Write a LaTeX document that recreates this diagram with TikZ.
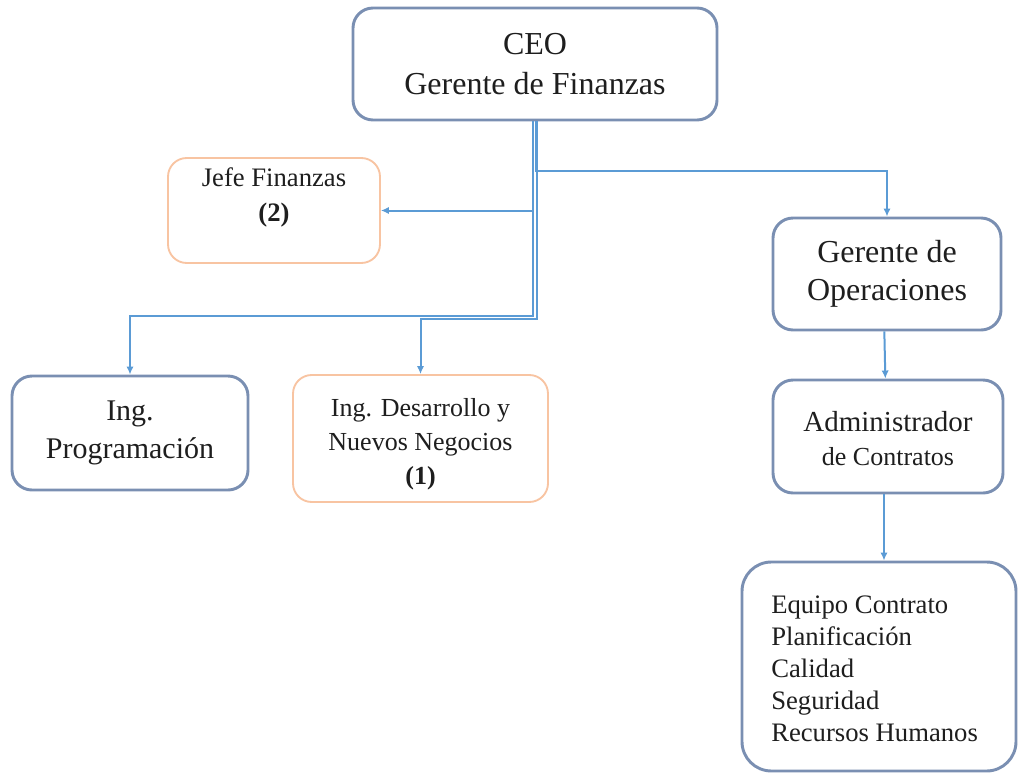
\documentclass[tikz,border=0pt]{standalone}
\usepackage{fontspec}
\setmainfont{LiberationSerif}[Extension=.ttf,UprightFont=*-Regular,BoldFont=*-Bold,ItalicFont=*-Italic,BoldItalicFont=*-BoldItalic]
\usetikzlibrary{arrows.meta}
\definecolor{boxblue}{HTML}{7A8FB2}
\definecolor{boxorange}{HTML}{F8C4A2}
\definecolor{lineblue}{HTML}{5B9BD5}
\definecolor{txt}{HTML}{1E1E1E}
\begin{document}
\begin{tikzpicture}[x=0.75pt,y=-0.75pt,
  bluebox/.style={draw=boxblue,line width=2.2pt,rounded corners=15pt,fill=white,inner sep=0pt,align=center,text=txt},
  orangebox/.style={draw=boxorange,line width=1.4pt,rounded corners=14pt,fill=white,inner sep=0pt,align=center,text=txt},
  lbl/.style={inner sep=0pt,text=txt},
  conn/.style={draw=lineblue,line width=1.5pt},
  arr/.style={conn,-{Latex[length=6pt,width=5.5pt]}}]
\useasboundingbox (0,0) rectangle (1018,774);
% boxes
\node[bluebox,minimum width=273pt,minimum height=84pt,font=\fontsize{24}{30}\selectfont] (ceo) at (535,64) {CEO\\Gerente de Finanzas};
\node[orangebox,minimum width=159pt,minimum height=78.75pt] (jefe) at (274,210.5) {};
\node[lbl,align=center,font=\fontsize{20}{26}\selectfont] (jefet) at (274,197.5) {Jefe Finanzas\\\textbf{(2)}};
\node[bluebox,minimum width=171pt,minimum height=84pt,font=\fontsize{24}{28.5}\selectfont] (gop) at (887,274) {Gerente de\\Operaciones};
\node[bluebox,minimum width=172.5pt,minimum height=84.75pt] (adm) at (888,436.5) {};
\node[lbl,align=center,font=\fontsize{21}{25.5}\selectfont] (admt) at (888,439) {{\fontsize{21.75}{25.5}\selectfont Administrador}\\{\fontsize{19.5}{25.5}\selectfont de Contratos}};
\node[bluebox,minimum width=177pt,minimum height=85.5pt,font=\fontsize{22.5}{29}\selectfont] (prog) at (130,433) {Ing.\\Programación};
\node[orangebox,minimum width=191.25pt,minimum height=95.25pt] (des) at (420.5,438.5) {};
\node[lbl,align=center,font=\fontsize{19.5}{25.5}\selectfont] (dest) at (420.5,444) {Ing. Desarrollo y\\Nuevos Negocios\\\textbf{(1)}};
\node[bluebox,rounded corners=22pt,minimum width=205.5pt,minimum height=156.75pt] (team) at (879,666.5) {};
\node[lbl,align=left,anchor=west,font=\fontsize{20}{24}\selectfont] (teamt) at (771,669) {Equipo Contrato\\Planificación\\Calidad\\Seguridad\\Recursos Humanos};
% connectors
\draw[arr] ([xshift=-1.2pt]ceo.south) |- (jefe.east);
\draw[arr] ([xshift=0.6pt]ceo.south) -- ++(0,50) -| (gop.north);
\draw[arr] ([xshift=-1.5pt]ceo.south) -- ++(0,195) -| (prog.north);
\draw[arr] ([xshift=1.2pt]ceo.south) -- ++(0,198) -| (des.north);
\draw[arr] ([xshift=-2pt]gop.south) -- ([xshift=-2pt]adm.north);
\draw[arr] ([xshift=-3pt]adm.south) -- ([xshift=-3pt]adm.south |- team.north);
\end{tikzpicture}
\end{document}
